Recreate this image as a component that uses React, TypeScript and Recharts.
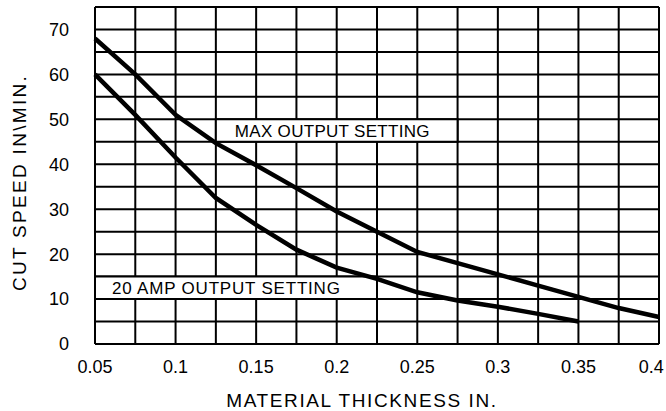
import React from 'react';
import { LineChart, Line, XAxis, YAxis, CartesianGrid, ReferenceArea } from 'recharts';

const xTicks = [0.05, 0.075, 0.1, 0.125, 0.15, 0.175, 0.2, 0.225, 0.25, 0.275, 0.3, 0.325, 0.35, 0.375, 0.4];
const xLabelTicks = [0.05, 0.1, 0.15, 0.2, 0.25, 0.3, 0.35, 0.4];
const yTicks = [0, 5, 10, 15, 20, 25, 30, 35, 40, 45, 50, 55, 60, 65, 70, 75];
const yLabelTicks = [0, 10, 20, 30, 40, 50, 60, 70];

const maxOutput = [
  { x: 0.05, y: 68 },
  { x: 0.075, y: 60 },
  { x: 0.1, y: 51 },
  { x: 0.125, y: 44.7 },
  { x: 0.15, y: 39.8 },
  { x: 0.175, y: 34.7 },
  { x: 0.2, y: 29.5 },
  { x: 0.225, y: 25 },
  { x: 0.25, y: 20.5 },
  { x: 0.275, y: 18 },
  { x: 0.3, y: 15.5 },
  { x: 0.325, y: 13 },
  { x: 0.35, y: 10.5 },
  { x: 0.375, y: 8 },
  { x: 0.4, y: 6 },
];

const amp20Output = [
  { x: 0.05, y: 60 },
  { x: 0.075, y: 51 },
  { x: 0.1, y: 41.5 },
  { x: 0.125, y: 32.5 },
  { x: 0.15, y: 26.5 },
  { x: 0.175, y: 21 },
  { x: 0.1875, y: 19 },
  { x: 0.2, y: 17 },
  { x: 0.225, y: 14.5 },
  { x: 0.25, y: 11.5 },
  { x: 0.275, y: 9.7 },
  { x: 0.3, y: 8.3 },
  { x: 0.325, y: 6.7 },
  { x: 0.35, y: 5 },
];

const FONT = '"Liberation Sans", Arial, sans-serif';
const CHART_W = 666;

const fmtX = (v: number) => (xLabelTicks.some((t) => Math.abs(t - v) < 1e-9) ? String(v) : '');
const fmtY = (v: number) => (yLabelTicks.includes(v) ? String(v) : '');

const XTick = (p: any) => {
  const label = fmtX(p.payload.value);
  if (!label) return null;
  const half = label.length * 4.6;
  const x = Math.min(p.x, CHART_W - half - 1);
  return (
    <text x={x} y={p.y} dy="0.71em" textAnchor="middle" fontSize={18} fontFamily={FONT} fill="#000">
      {label}
    </text>
  );
};

export default function App() {
  return (
    <div style={{ position: 'absolute', left: 0, top: 0, width: 666, height: 411, background: '#fff' }}>
      <LineChart width={CHART_W} height={411} margin={{ top: 7, right: 7, left: 0, bottom: 0 }}>
        <CartesianGrid stroke="#000" strokeWidth={2} />
        <XAxis
          type="number"
          dataKey="x"
          domain={[0.05, 0.4]}
          ticks={xTicks}
          interval={0}
          axisLine={false}
          tickLine={false}
          tickSize={0}
          tickMargin={16}
          height={67}
          allowDuplicatedCategory={false}
          tick={<XTick />}
          label={{
            content: (p: any) => {
              const vb = p.viewBox;
              return (
                <text
                  x={vb.x + vb.width / 2 - 15}
                  y={407}
                  textAnchor="middle"
                  fontSize={19}
                  fontFamily={FONT}
                  letterSpacing={1.6}
                  fill="#000"
                >
                  MATERIAL THICKNESS IN.
                </text>
              );
            },
          }}
        />
        <YAxis
          type="number"
          domain={[0, 75]}
          ticks={yTicks}
          interval={0}
          tickFormatter={fmtY}
          axisLine={false}
          tickLine={false}
          tickSize={0}
          tickMargin={26}
          width={95}
          tick={{ fill: '#000', fontSize: 18, fontFamily: FONT }}
          label={{
            content: (p: any) => {
              const vb = p.viewBox;
              const cx = 19;
              const cy = vb.y + vb.height / 2 + 7;
              return (
                <text
                  x={cx}
                  y={cy}
                  transform={`rotate(-90, ${cx}, ${cy})`}
                  textAnchor="middle"
                  dominantBaseline="central"
                  fontSize={19}
                  fontFamily={FONT}
                  letterSpacing={2.3}
                  fill="#000"
                >
                  {'CUT SPEED IN\\MIN.'}
                </text>
              );
            },
          }}
        />
        <ReferenceArea
          x1={0.125}
          x2={0.275}
          y1={45}
          y2={50}
          fill="#fff"
          fillOpacity={1}
          stroke="#000"
          strokeWidth={2}
          label={{ value: 'MAX OUTPUT SETTING', position: 'insideLeft', offset: 19, fontSize: 17, fontFamily: FONT, fill: '#000', letterSpacing: 0.3 }}
        />
        <ReferenceArea
          x1={0.05}
          x2={0.225}
          y1={10}
          y2={15}
          fill="#fff"
          fillOpacity={1}
          stroke="#000"
          strokeWidth={2}
          label={{ value: '20 AMP OUTPUT SETTING', position: 'insideLeft', offset: 17, fontSize: 17, fontFamily: FONT, fill: '#000', letterSpacing: 0.8 }}
        />
        <Line data={maxOutput} dataKey="y" type="linear" stroke="#000" strokeWidth={4.5} dot={false} isAnimationActive={false} />
        <Line data={amp20Output} dataKey="y" type="linear" stroke="#000" strokeWidth={4.5} dot={false} isAnimationActive={false} />
      </LineChart>
    </div>
  );
}
